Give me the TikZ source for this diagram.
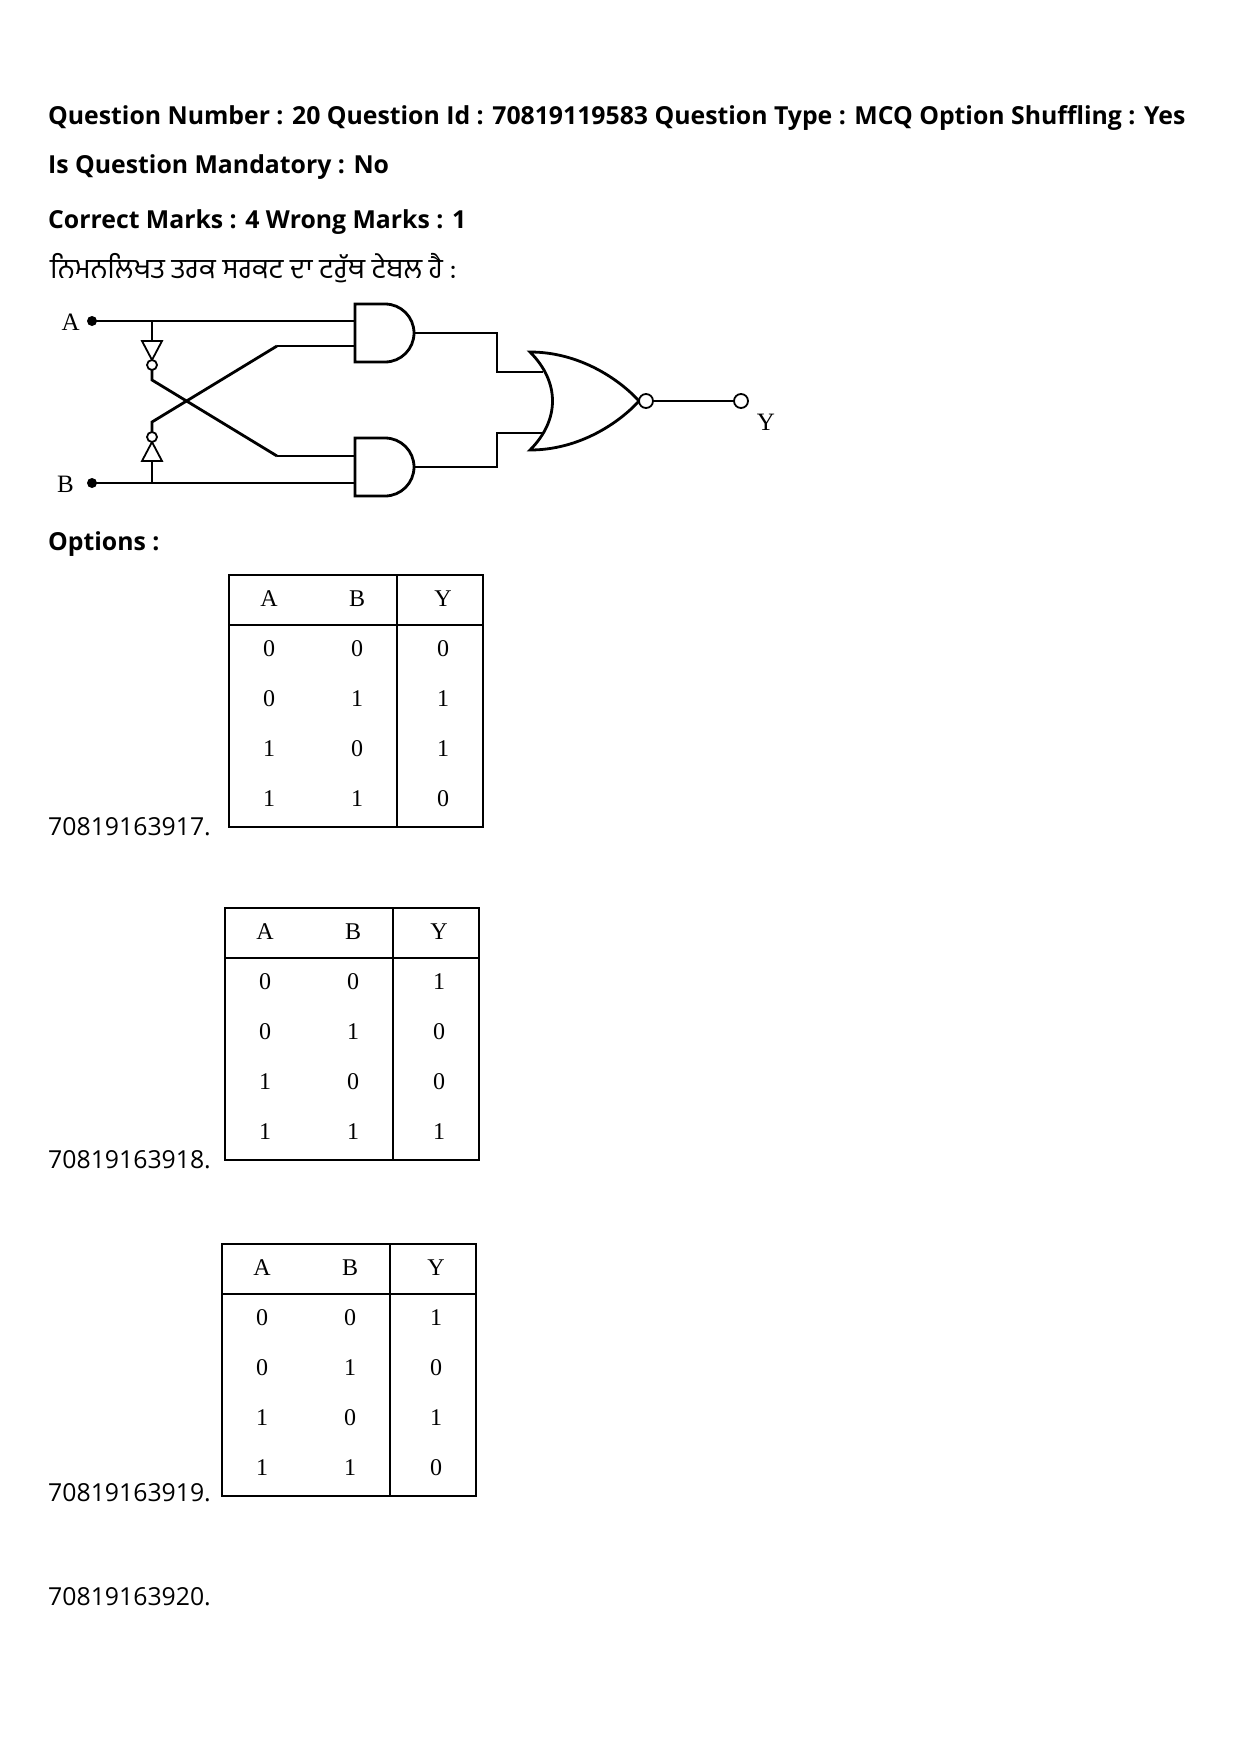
\documentclass[tikz,border=0pt]{standalone}
\usepackage{fontspec}
\setmainfont{Open Sans}
\newfontfamily\gurfont[Script=Gurmukhi]{Hind Jalandhar}
\newfontfamily\tabfont{Liberation Serif}
\usetikzlibrary{calc}
\newcommand{\qsize}{\fontsize{24.8}{30}\selectfont}

\tikzset{
	qtext/.style={anchor=base west, inner sep=0pt, font=\qsize},
	wire/.style={line width=2.8pt},
	pinlabel/.style={font=\tabfont\fontsize{25}{28}\selectfont, inner sep=0pt},
	cell/.style={font=\tabfont\fontsize{24}{28}\selectfont, inner sep=0pt},
}

% AND gate: left edge at #1, top at #2
\newcommand{\andGate}[2]{%
	\draw[wire, fill=white] (#1,#2) -- ++(30,0) arc [start angle=-90, end angle=90, radius=29] -- ++(-30,0) -- cycle;}

% truth table: left x, top y, label y, Y column values
\newcommand{\truthTable}[5]{%
	\begin{scope}[xshift=#1, yshift=-#2]
		\draw[line width=2pt] (0,0) rectangle (254,252);
		\draw[line width=2pt] (0,50) -- (254,50);
		\draw[line width=2.8pt] (168,0) -- (168,252);
		\node[cell] at (40,24) {A};
		\node[cell] at (128,24) {B};
		\node[cell] at (214,24) {Y};
		\foreach \a/\b/\y [count=\r] in {#5} {
			\node[cell] at (40,{24+50*\r}) {\a};
			\node[cell] at (128,{24+50*\r}) {\b};
			\node[cell] at (214,{24+50*\r}) {\y};
		}
	\end{scope}
	\node[qtext] at (48,#3) {#4};}

\begin{document}
\begin{tikzpicture}[x=1pt, y=-1pt]
	\useasboundingbox (0,0) rectangle (1240,1755);

	% question header
	\node[qtext] (qline) at (48,125) {\bfseries Question Number : 20 Question Id : 70819119583 Question Type : MCQ Option Shuffling : Yes};
	\node[qtext] (qmand) at (48,174) {\bfseries Is Question Mandatory : No};
	\node[qtext] (qmarks) at (48,228) {\bfseries Correct Marks : 4 Wrong Marks : 1};
	\node[qtext] (qtext) at (50,278) {\gurfont\fontsize{28}{32}\selectfont ਨਿਮਨਲਿਖਤ ਤਰਕ ਸਰਕਟ ਦਾ ਟਰੁੱਥ ਟੇਬਲ ਹੈ :};

	% circuit
	\coordinate (pinA) at (92,321);
	\coordinate (pinB) at (92,483);
	\coordinate (orOut) at (653,401);
	\coordinate (pinY) at (741,401);
	\node[pinlabel, anchor=east] (labA) at (80,322) {A};
	\node[pinlabel, anchor=east] (labB) at (74,484) {B};
	\node[pinlabel] (labY) at (766,422) {Y};

	\draw[wire] (pinA) -- (355,321);
	\draw[wire] (pinB) -- (355,483);
	\draw[wire] (277,346) -- (355,346);
	\draw[wire] (277,456) -- (355,456);
	\andGate{355}{304}
	\andGate{355}{438}

	% inverters
	\draw[wire] (152,321) -- (152,341);
	\draw[line width=1.8pt, fill=white] (142,341) -- (162,341) -- (152,360) -- cycle;
	\draw[line width=1.8pt, fill=white] (152,365) circle [radius=5];
	\draw[wire] (152,370) -- (152,380) -- (277,456);
	\draw[wire] (152,483) -- (152,461);
	\draw[line width=1.8pt, fill=white] (142,461) -- (162,461) -- (152,442) -- cycle;
	\draw[line width=1.8pt, fill=white] (152,437) circle [radius=5];
	\draw[wire] (152,432) -- (152,422) -- (277,346);

	% OR side
	\draw[wire] (413,333) -- (497,333) -- (497,372) -- (543,372);
	\draw[wire] (413,467) -- (497,467) -- (497,433) -- (543,433);
	\draw[wire, fill=white] (530,352) .. controls (580,352) and (620,380) .. (639,401)
		.. controls (620,422) and (580,450) .. (530,450)
		.. controls (560,420) and (560,382) .. (530,352) -- cycle;
	\draw[line width=1.8pt, fill=white] (646,401) circle [radius=7];
	\draw[wire] (orOut) -- (734,401);
	\draw[line width=1.8pt, fill=white] (pinY) circle [radius=7];
	\fill (pinA) circle [radius=5];
	\fill (pinB) circle [radius=5];

	\node[qtext] (opts) at (48,550) {\bfseries Options :};

	% options
	\truthTable{229}{575}{835}{70819163917.}{0/0/0,0/1/1,1/0/1,1/1/0}
	\truthTable{225}{908}{1168}{70819163918.}{0/0/1,0/1/0,1/0/0,1/1/1}
	\truthTable{222}{1244}{1501}{70819163919.}{0/0/1,0/1/0,1/0/1,1/1/0}
	\node[qtext] (opt4) at (48,1605) {70819163920.};
\end{tikzpicture}
\end{document}
